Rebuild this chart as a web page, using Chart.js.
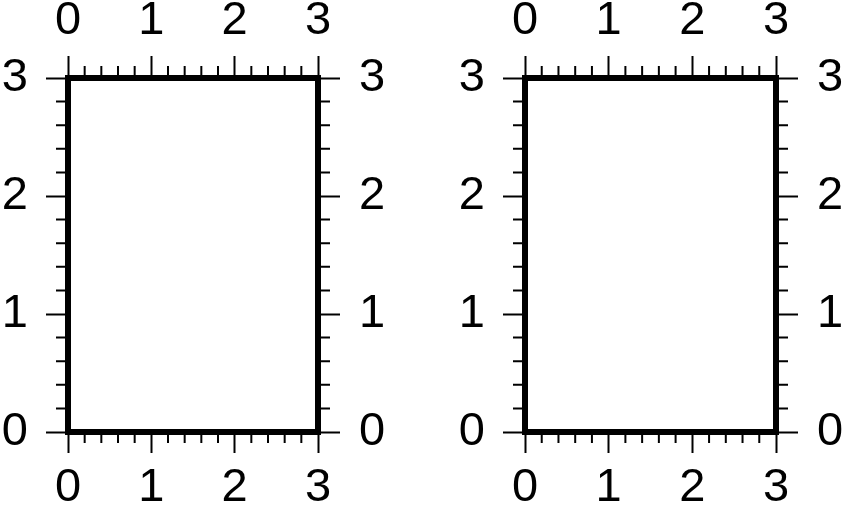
<!DOCTYPE html>
<html>
<head>
<meta charset="utf-8">
<script src="https://cdn.jsdelivr.net/npm/chart.js@4/dist/chart.umd.min.js"></script>
<style>
  body { margin: 0; background: #fff; }
  #wrap { position: relative; width: 844px; height: 511px; }
  canvas { position: absolute; top: 0; }
</style>
</head>
<body>
<div id="wrap">
  <canvas id="left" width="420" height="511" style="left:0"></canvas>
  <canvas id="right" width="424" height="511" style="left:420px"></canvas>
</div>
<script>
// axis ranges for both panels (empty frames, no data)
const xRange = [0, 3];
const yRange = [0, 3];
const majorStep = 1;
// minor tick values between the annotated ones
const minorTicks = [0.2, 0.4, 0.6, 0.8, 1.2, 1.4, 1.6, 1.8, 2.2, 2.4, 2.6, 2.8];

const FONT = { family: "'Liberation Sans', Arial, sans-serif", size: 47, lineHeight: 1 };

// frame + minor ticks, placed with the chart's own scales
const framePlugin = {
  id: 'frame',
  afterDraw(chart) {
    const ctx = chart.ctx;
    const a = chart.chartArea;
    ctx.save();
    ctx.strokeStyle = '#000';
    ctx.lineWidth = 2;
    ctx.beginPath();
    minorTicks.forEach(v => {
      const px = chart.scales.x.getPixelForValue(v);
      const py = chart.scales.y.getPixelForValue(v);
      ctx.moveTo(px, a.bottom); ctx.lineTo(px, a.bottom + 11);   // bottom
      ctx.moveTo(px, a.top); ctx.lineTo(px, a.top - 12);         // top
      ctx.moveTo(a.left, py); ctx.lineTo(a.left - 12, py);       // left
      ctx.moveTo(a.right, py); ctx.lineTo(a.right + 12, py);     // right
    });
    ctx.stroke();
    ctx.lineWidth = 6;
    ctx.lineJoin = 'miter';
    ctx.strokeRect(a.left, a.top, a.right - a.left, a.bottom - a.top);
    ctx.restore();
  }
};

function axis(position, size, pad) {
  const horizontal = position === 'top' || position === 'bottom';
  return {
    type: 'linear',
    position: position,
    min: horizontal ? xRange[0] : yRange[0],
    max: horizontal ? xRange[1] : yRange[1],
    ticks: {
      stepSize: majorStep,
      color: '#000',
      font: FONT,
      padding: pad,
      maxRotation: 0,
      autoSkip: false
    },
    grid: {
      drawOnChartArea: false,
      drawTicks: true,
      tickLength: position === 'bottom' ? 21 : 22,
      tickWidth: 2,
      tickColor: '#000'
    },
    border: { display: false },
    afterFit(scale) {
      if (horizontal) scale.height = size; else scale.width = size;
    }
  };
}

function makePanel(id, leftWidth, rightWidth) {
  return new Chart(document.getElementById(id), {
    type: 'scatter',
    data: { datasets: [] },
    options: {
      responsive: false,
      animation: false,
      devicePixelRatio: 1,
      layout: { padding: 0 },
      plugins: { legend: { display: false }, tooltip: { enabled: false } },
      scales: {
        x: axis('bottom', 79, 12),
        x2: axis('top', 78, 11),
        y: axis('left', leftWidth, 18),
        y2: axis('right', rightWidth, 19)
      }
    },
    plugins: [framePlugin]
  });
}

makePanel('left', 68, 102);
makePanel('right', 105, 68);
</script>
</body>
</html>
